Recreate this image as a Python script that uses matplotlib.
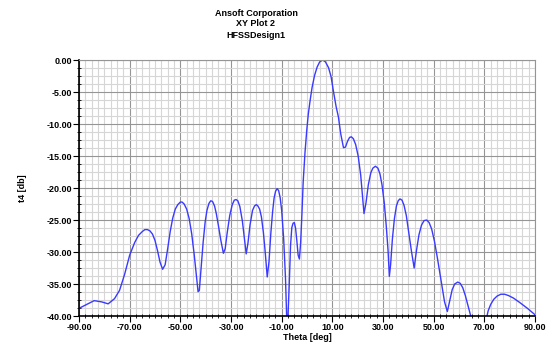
import matplotlib
matplotlib.use("Agg")
import matplotlib.pyplot as plt
from matplotlib.ticker import MultipleLocator, FormatStrFormatter

# traced pattern of t4 vs theta
theta = [-90, -87, -84, -81, -78.5, -76, -74, -72, -70, -68, -66.5, -65, -64,
         -63, -62, -61, -60, -59, -58, -57, -56, -55, -54, -53, -52, -51,
         -50, -49.3, -48.5, -47.5, -46.5, -45.5, -44.5, -43.5, -43, -42.5,
         -41.8, -41, -40.2, -39.5, -38.7, -38, -37.3, -36.5, -35.8, -35,
         -34, -33, -32.3, -31.5, -30.5, -29.5, -28.7, -28, -27.3, -26.5,
         -25.5, -24.5, -24, -23.3, -22.5, -21.5, -20.7, -20, -19.4, -18.7,
         -18, -17.2, -16.5, -15.7, -15, -14.3, -13.6, -13, -12.4, -11.8,
         -11.2, -10.6, -10, -9.2, -8.5, -7.8, -7.0, -6.5, -6.0, -5.5, -5.0,
         -4.5, -4.0, -3.5, -3.0, -2.5, -2.0, -1.5, -0.8, -0.1, 0.5, 1.2, 2,
         3, 4, 5, 6.2, 7.3, 8.5, 9.5, 10.4, 11.5, 12.4, 13.3, 14.4, 15.2,
         16, 16.8, 17.5, 18.3, 19.2, 20.2, 21.2, 22.5, 23.3, 24.2, 25.2, 26,
         27, 28, 28.8, 29.6, 30.5, 31.3, 32, 32.5, 33, 33.7, 34.5, 35.3,
         36, 36.7, 37.5, 38.3, 39.2, 40.2, 41.2, 42.3, 43.2, 44.2, 45.2,
         46.2, 47.2, 48.2, 49.2, 50.3, 51.5, 53, 54.3, 55.4, 56.3, 57.3,
         58.3, 59.5, 60.5, 61.5, 62.5, 63.5, 64.5, 65.5, 68, 70.5, 71.5,
         72.5, 73.7, 75, 76.5, 78, 79.5, 81.5, 84, 87, 90]
t4 = [-38.8, -38.2, -37.6, -37.8, -38.1, -37.3, -36.0, -33.5, -30.5, -28.5,
      -27.4, -26.8, -26.5, -26.5, -26.7, -27.2, -28.2, -29.8, -31.6, -32.7,
      -32.0, -29.5, -26.8, -24.7, -23.3, -22.6, -22.2, -22.2, -22.5, -23.3,
      -24.8, -27.2, -30.5, -34.2, -36.2, -36.0, -32.5, -28.5, -25.3, -23.5,
      -22.4, -22.0, -22.1, -22.8, -24.0, -25.8, -28.2, -30.2, -29.5, -27.0,
      -24.3, -22.6, -21.9, -21.8, -22.0, -22.9, -25.2, -28.6, -30.3, -28.6,
      -25.8, -23.5, -22.8, -22.6, -22.8, -23.3, -24.5, -27.0, -30.0, -33.9,
      -31.5, -27.2, -23.8, -21.6, -20.5, -20.1, -20.4, -21.5, -23.5, -28.0,
      -34.0, -43.0, -35.0, -29.0, -26.2, -25.5, -25.4, -26.3, -28.3, -30.5,
      -31.1, -28.5, -24.0, -19.0, -14.5, -11.0, -8.5, -6.4, -4.3, -2.4,
      -1.1, -0.3, 0.0, -0.3, -1.2, -2.6, -4.8, -7.3, -8.9, -11.5, -13.7,
      -13.6, -12.7, -12.1, -12.0, -12.3, -13.2, -15.0, -18.0, -24.0, -22.3,
      -19.5, -17.6, -16.9, -16.6, -16.9, -17.8, -19.5, -22.3, -26.0, -29.8,
      -33.8, -32.0, -28.0, -24.8, -22.8, -22.0, -21.7, -21.9, -22.7, -24.3,
      -27.0, -29.8, -32.5, -29.8, -27.3, -25.8, -25.1, -25.0, -25.4, -26.4,
      -28.3, -31.0, -34.6, -37.8, -39.3, -37.7, -35.9, -35.0, -34.7, -34.9,
      -35.6, -36.8, -38.3, -39.8, -41.3, -46.0, -41.0, -39.2, -38.2, -37.4,
      -36.9, -36.6, -36.6, -36.8, -37.2, -37.9, -38.8, -39.8]

x_ticks = [-90, -70, -50, -30, -10, 10, 30, 50, 70, 90]
titles = ["Ansoft Corporation", "XY Plot 2", "HFSSDesign1"]

plt.rcParams["font.family"] = ["Liberation Sans", "DejaVu Sans"]
plt.rcParams["font.weight"] = "bold"

fig = plt.figure(figsize=(5.5, 3.43), dpi=100)
fig.patch.set_facecolor("white")
ax = fig.add_axes([79 / 550, 1 - 316 / 343, 456 / 550, 256 / 343])

ax.plot(theta, t4, color="#3a3aff", linewidth=1.0, clip_on=True)

ax.set_xlim(-90, 90)
ax.set_ylim(-40, 0)
ax.xaxis.set_minor_locator(MultipleLocator(2.5))
ax.yaxis.set_major_locator(MultipleLocator(5))
ax.yaxis.set_minor_locator(MultipleLocator(1.25))
ax.set_xticks(x_ticks)
ax.xaxis.set_major_formatter(FormatStrFormatter("%.2f"))
ax.yaxis.set_major_formatter(FormatStrFormatter("%.2f"))

ax.grid(which="minor", color="#d6d6d6", linewidth=0.8)
ax.grid(which="major", color="#959595", linewidth=0.8)
ax.set_axisbelow(True)

for side in ("top", "right"):
    ax.spines[side].set_color("#959595")
    ax.spines[side].set_linewidth(0.8)
for side in ("left", "bottom"):
    ax.spines[side].set_color("black")
    ax.spines[side].set_linewidth(1.2)

ax.tick_params(which="major", direction="out", length=4, width=0.8,
               labelsize=6.5, pad=1)
ax.tick_params(which="minor", direction="inout", length=3, width=0.6)
for lab in ax.get_xticklabels() + ax.get_yticklabels():
    lab.set_fontweight("bold")

ax.set_xlabel("Theta [deg]", fontsize=6.5, fontweight="bold", labelpad=1)
ax.set_ylabel("t4 [db]", fontsize=6.5, fontweight="bold", labelpad=14)

for i, t in enumerate(titles):
    fig.text(256 / 550, 1 - (13 + 11 * i) / 343, t, ha="center", va="center",
             fontsize=6.5, fontweight="bold")

plt.savefig("out.png", dpi=100, facecolor="white")
plt.close()
